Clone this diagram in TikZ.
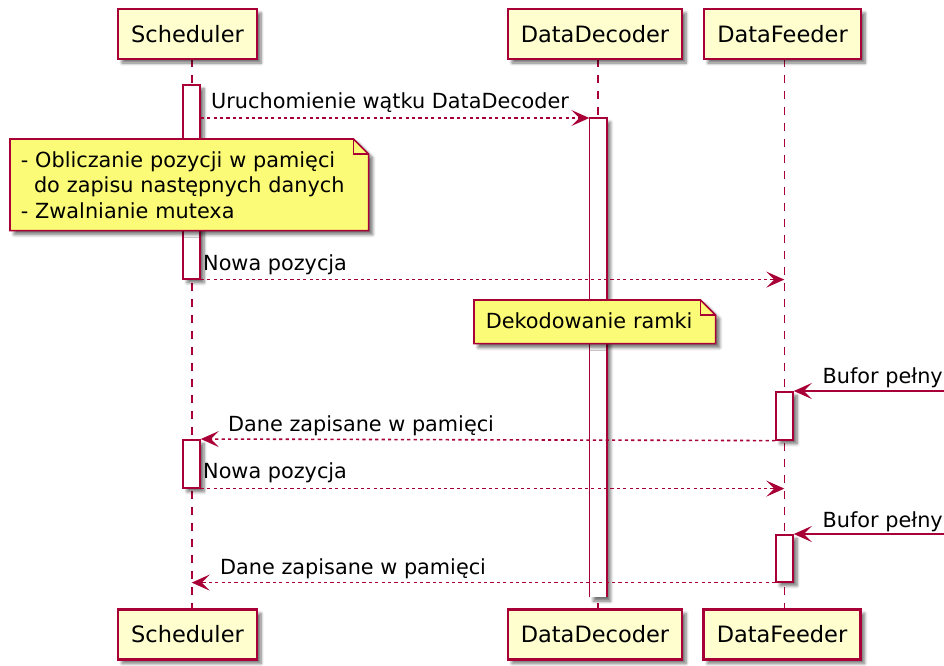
\documentclass[tikz,border=0pt]{standalone}
\usepackage{fontspec}
\setmainfont{DejaVu Sans}
\usetikzlibrary{arrows.meta,shadows.blur}

\definecolor{umlred}{HTML}{A80036}
\definecolor{partfill}{HTML}{FEFECE}
\definecolor{notefill}{HTML}{FBFB77}

\tikzset{
  softshadow/.style={blur shadow={shadow xshift=4pt, shadow yshift=-4pt,
      shadow blur radius=3pt, shadow blur steps=6, shadow opacity=55}},
  part/.style={draw=umlred, line width=2.2pt, fill=partfill, inner sep=0pt,
      minimum height=50pt, text height=16.4pt, text depth=0pt,
      font=\fontsize{22.5}{27}\selectfont, softshadow},
  lifeline/.style={draw=umlred, line width=1.6pt, dash pattern=on 8pt off 8pt},
  actbar/.style={draw=umlred, fill=white, line width=1.6pt, minimum width=17pt,
      inner sep=0pt, anchor=north, softshadow},
  actopen/.style={fill=white, minimum width=17pt, inner sep=0pt, anchor=north, softshadow},
  actedge/.style={draw=umlred, line width=1.6pt},
  tip/.style={-{Stealth[length=18pt, width=16pt, inset=8pt]}},
  dmsg/.style={draw=umlred, line width=1.6pt, dash pattern=on 3.2pt off 3.2pt, tip},
  smsg/.style={draw=umlred, line width=1.6pt, tip},
  lbl/.style={anchor=base west, inner sep=0pt, font=\fontsize{20.8}{25.5}\selectfont},
  notebox/.style={anchor=north west, inner ysep=0pt, align=left,
      font=\fontsize{20.8}{25.5}\selectfont},
  notebody/.style={draw=umlred, fill=notefill, line width=1.6pt, line join=miter, softshadow},
  notefold/.style={draw=umlred, line width=1.6pt},
}

\begin{document}
\begin{tikzpicture}[x=1pt, y=-1pt]
\useasboundingbox (0,0) rectangle (944,665);

% lifeline positions
\coordinate (sL) at (191.7,0);
\coordinate (dL) at (597.7,0);
\coordinate (fL) at (784.3,0);
\coordinate (topY) at (0,59);
\coordinate (botY) at (0,609);

% lifelines
\draw[lifeline] (topY -| sL) -- (botY -| sL);
\draw[lifeline] (topY -| dL) -- (botY -| dL);
\draw[lifeline] (topY -| fL) -- (botY -| fL);

% activation bars
\node[actbar, minimum height=194pt] (s1) at (191.5,84) {};
\node[actopen, minimum height=479pt] (d1) at (598,118) {};
\draw[actedge] (d1.south west) -- (d1.north west) -- (d1.north east) -- (d1.south east);
\node[actbar, minimum height=48pt] (f1) at (784.5,391) {};
\node[actbar, minimum height=48pt] (s2) at (191.5,439) {};
\node[actbar, minimum height=47pt] (f2) at (784.5,534) {};

% notes: the folded outline is the path, the text node sits on top of it
\path[notebody] (10,139)
  node[notebox, text width=337pt, inner xsep=10pt, minimum height=90pt] (n1)
  {- Obliczanie pozycji w pamięci\\\hspace*{13.2pt}do zapisu następnych danych\\- Zwalnianie mutexa}
  (n1.south west) -- (n1.north west) -- ([xshift=-15pt]n1.north east)
  -- ([yshift=-15pt]n1.north east) -- (n1.south east) -- cycle;
\draw[notefold] ([xshift=-15pt]n1.north east) -- ([xshift=-15pt,yshift=-15pt]n1.north east)
  -- ([yshift=-15pt]n1.north east);

\path[notebody] (474,300)
  node[notebox, text width=218pt, inner xsep=11pt, minimum height=42pt, text depth=3pt] (n2)
  {Dekodowanie ramki}
  (n2.south west) -- (n2.north west) -- ([xshift=-15pt]n2.north east)
  -- ([yshift=-15pt]n2.north east) -- (n2.south east) -- cycle;
\draw[notefold] ([xshift=-15pt]n2.north east) -- ([xshift=-15pt,yshift=-15pt]n2.north east)
  -- ([yshift=-15pt]n2.north east);

% incoming edges
\coordinate (in1) at (944,391);
\coordinate (in2) at (944,534);

% messages
\draw[dmsg] (s1.east |- d1.north west) -- (d1.north west);
\node[lbl] (l1) at (211,108) {Uruchomienie wątku DataDecoder};

\draw[dmsg] (s1.south east) -- (s1.south east -| fL);
\node[lbl] (l2) at (203,270) {Nowa pozycja};

\draw[smsg] (in1) -- (f1.north east);
\node[lbl] (l3) at (822.5,383) {Bufor pełny};

\draw[dmsg] (f1.south west) -- (s2.north east);
\node[lbl] (l4) at (228,431) {Dane zapisane w pamięci};

\draw[dmsg] (s2.south east) -- (s2.south east -| fL);
\node[lbl] (l5) at (203,478) {Nowa pozycja};

\draw[smsg] (in2) -- (f2.north east);
\node[lbl] (l6) at (822.5,527) {Bufor pełny};

\draw[dmsg] (f2.south west) -- (f2.south west -| sL);
\node[lbl] (l7) at (220,574) {Dane zapisane w pamięci};

% participants, top and bottom
\node[part, minimum width=139pt] (sTop) at (187.5,34) {Scheduler};
\node[part, minimum width=174pt] (dTop) at (595,34) {DataDecoder};
\node[part, minimum width=157pt] (fTop) at (782.5,34) {DataFeeder};
\node[part, minimum width=139pt] (sBot) at (187.5,634.5) {Scheduler};
\node[part, minimum width=174pt] (dBot) at (595,634.5) {DataDecoder};
\node[part, minimum width=157pt] (fBot) at (782,634.5) {DataFeeder};
\end{tikzpicture}
\end{document}
